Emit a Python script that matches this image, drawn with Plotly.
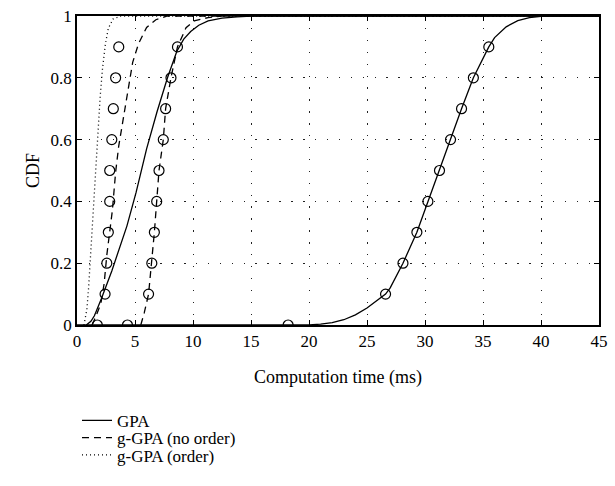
import plotly.graph_objects as go

# ---- data ----
gpa_left_x = [0.8, 1.2, 1.5, 1.8, 2.1, 3.0, 4.3, 5.1, 6.0, 6.9, 7.8, 8.6, 9.2, 9.8, 10.5, 11.3, 12.5, 13.8, 15.0, 45.0]
gpa_left_y = [0.0, 0.012, 0.03, 0.055, 0.085, 0.175, 0.32, 0.43, 0.57, 0.69, 0.80, 0.885, 0.925, 0.95, 0.97, 0.984, 0.993, 0.997, 1.0, 1.0]

gpa_right_x = [0.0, 20.0, 21.0, 22.0, 23.0, 24.0, 25.0, 26.0, 26.6, 27.0, 28.1, 29.3, 30.25, 31.25, 32.2, 33.15, 34.17, 35.5, 36.0, 37.0, 38.0, 39.0, 40.0, 41.0, 45.0]
gpa_right_y = [0.0, 0.0, 0.003, 0.008, 0.017, 0.033, 0.055, 0.083, 0.10, 0.12, 0.20, 0.30, 0.40, 0.50, 0.60, 0.70, 0.80, 0.90, 0.93, 0.965, 0.985, 0.995, 0.999, 1.0, 1.0]

noorder_left_x = [1.3, 1.6, 2.06, 2.34, 2.57, 2.76, 3.05, 3.33, 3.6, 4.0, 4.45, 4.8, 5.3, 6.0, 6.8, 7.8, 45.0]
noorder_left_y = [0.0, 0.025, 0.07, 0.134, 0.226, 0.285, 0.371, 0.495, 0.58, 0.67, 0.78, 0.85, 0.91, 0.963, 0.988, 1.0, 1.0]

noorder_right_x = [5.5, 5.8, 6.17, 6.45, 6.67, 6.87, 7.07, 7.44, 7.64, 8.1, 8.66, 9.4, 10.1, 11.3, 12.5, 45.0]
noorder_right_y = [0.0, 0.04, 0.10, 0.20, 0.30, 0.40, 0.50, 0.60, 0.70, 0.80, 0.90, 0.962, 0.984, 0.995, 1.0, 1.0]

order_x = [0.6, 0.85, 1.0, 1.2, 1.4, 1.6, 1.8, 2.0, 2.2, 2.45, 2.7, 3.1, 3.8, 45.0]
order_y = [0.0, 0.05, 0.12, 0.25, 0.37, 0.50, 0.62, 0.74, 0.83, 0.91, 0.96, 0.99, 1.0, 1.0]

# circle markers (three columns)
circ_a_x = [1.75, 2.42, 2.57, 2.7, 2.82, 2.82, 3.0, 3.13, 3.33, 3.6]
circ_b_x = [4.35, 6.17, 6.45, 6.67, 6.87, 7.07, 7.44, 7.64, 8.1, 8.66]
circ_c_x = [18.2, 26.6, 28.1, 29.3, 30.25, 31.25, 32.2, 33.15, 34.17, 35.5]
circ_y = [0.0, 0.1, 0.2, 0.3, 0.4, 0.5, 0.6, 0.7, 0.8, 0.9]

x_ticks = [0, 5, 10, 15, 20, 25, 30, 35, 40, 45]
y_ticks = [0, 0.2, 0.4, 0.6, 0.8, 1]
y_tick_text = ["0", "0.2", "0.4", "0.6", "0.8", "1"]

legend_names = ["GPA", "g-GPA (no order)", "g-GPA (order)"]

FONT = "Liberation Serif"
LW = 1.3
DASH = "7px,5px"
DOT = "1px,3px"

fig = go.Figure()

fig.add_trace(go.Scatter(x=gpa_left_x, y=gpa_left_y, mode="lines", name=legend_names[0],
                         line=dict(color="black", width=LW, dash="solid"), legend="legend"))
fig.add_trace(go.Scatter(x=noorder_left_x, y=noorder_left_y, mode="lines", name=legend_names[1],
                         line=dict(color="black", width=LW, dash=DASH), legend="legend2"))
fig.add_trace(go.Scatter(x=order_x, y=order_y, mode="lines", name=legend_names[2],
                         line=dict(color="black", width=LW, dash=DOT), legend="legend3"))
fig.add_trace(go.Scatter(x=gpa_right_x, y=gpa_right_y, mode="lines", showlegend=False,
                         line=dict(color="black", width=LW, dash="solid")))
fig.add_trace(go.Scatter(x=noorder_right_x, y=noorder_right_y, mode="lines", showlegend=False,
                         line=dict(color="black", width=LW, dash=DASH)))
for cx in (circ_a_x, circ_b_x, circ_c_x):
    fig.add_trace(go.Scatter(x=cx, y=circ_y, mode="markers", showlegend=False,
                             marker=dict(symbol="circle-open", size=10, color="black",
                                         line=dict(width=1.2, color="black"))))

axis_common = dict(
    showline=True, linecolor="black", linewidth=1.5, mirror="ticks",
    ticks="inside", ticklen=5, tickcolor="black", tickwidth=1,
    showgrid=True, gridcolor="#222222", gridwidth=1.4, griddash="1.4px,10.5px",
    zeroline=False, tickfont=dict(family=FONT, size=17, color="black"),
)

fig.update_xaxes(range=[0, 45], tickvals=x_ticks, ticktext=[str(v) for v in x_ticks],
                 title=dict(text="Computation time (ms)", font=dict(family=FONT, size=18, color="black"), standoff=20),
                 **axis_common)
fig.update_yaxes(range=[0, 1], tickvals=y_ticks, ticktext=y_tick_text,
                 title=dict(text="CDF", font=dict(family=FONT, size=18, color="black"), standoff=6),
                 **axis_common)

leg_common = dict(x=0.0, xanchor="left", yanchor="middle",
                  font=dict(family=FONT, size=17, color="black"),
                  bgcolor="rgba(0,0,0,0)", itemwidth=30)

fig.update_layout(
    width=615, height=486,
    margin=dict(l=77, r=7, t=15, b=161),
    plot_bgcolor="white", paper_bgcolor="white",
    font=dict(family=FONT, color="black"),
    legend=dict(y=-0.31, **leg_common),
    legend2=dict(y=-0.366, **leg_common),
    legend3=dict(y=-0.422, **leg_common),
)

fig.write_html("out.html")
